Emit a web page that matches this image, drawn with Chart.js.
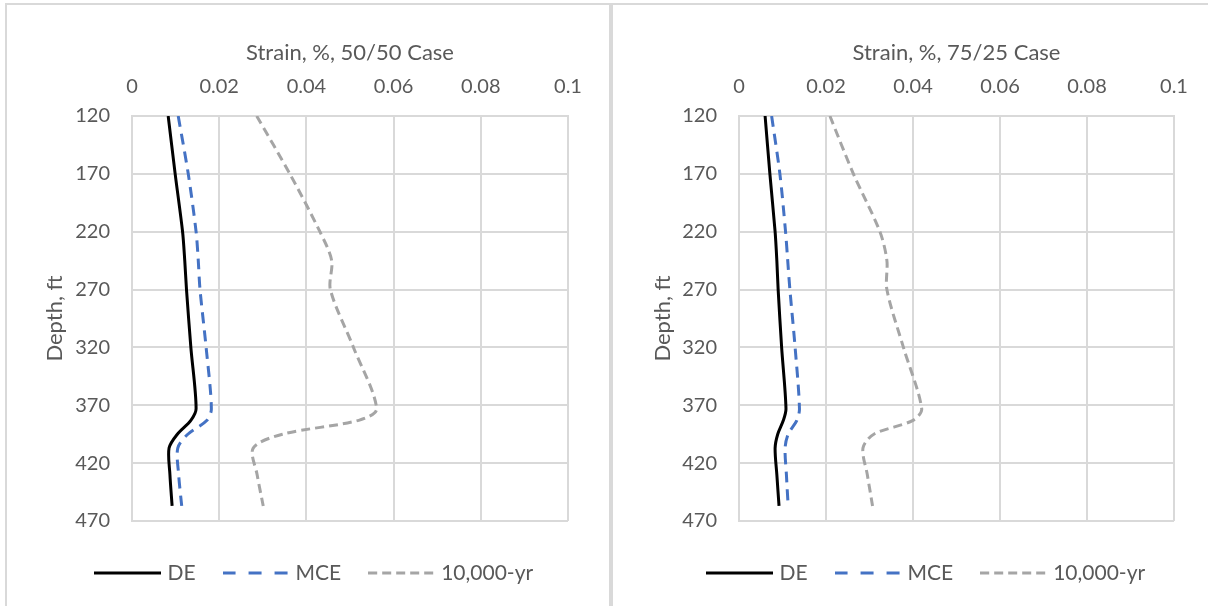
<!DOCTYPE html>
<html>
<head>
<meta charset="utf-8">
<script src="https://cdn.jsdelivr.net/npm/chart.js@4.4.0/dist/chart.umd.min.js"></script>
<style>
  body { margin: 0; background: #fff; width: 1208px; height: 606px; overflow: hidden; position: relative; }
  .frame { position: absolute; top: 3px; height: 603px; border-top: 2px solid #d9d9d9; box-sizing: border-box; }
  #f1 { left: 5px; width: 604px; border-left: 2px solid #d9d9d9; }
  #f2 { left: 613px; width: 595px; }
  #sep { position: absolute; left: 609px; top: 3px; width: 4px; height: 603px; background: #d9d9d9; }
  .box { position: absolute; top: 5px; height: 600px; }
  #b1 { left: 7px; width: 602px; }
  #b2 { left: 613px; width: 595px; }
</style>
</head>
<body>
<div class="frame" id="f1"></div>
<div id="sep"></div>
<div class="frame" id="f2"></div>
<div class="box" id="b1"><canvas id="chart1"></canvas></div>
<div class="box" id="b2"><canvas id="chart2"></canvas></div>
<script>
// depth (ft) where the strain was read
const depths = [120, 170, 220, 245, 270, 320, 373, 383, 395, 407, 430, 457];

// 50/50 case
const de5050  = [0.0083, 0.0099, 0.0116, 0.0121, 0.0125, 0.0135, 0.0147, 0.0135, 0.0104, 0.0085, 0.0087, 0.0092];
const mce5050 = [0.0106, 0.0129, 0.0147, 0.0152, 0.0156, 0.0170, 0.0182, 0.0172, 0.0128, 0.0105, 0.0107, 0.0114];
const yr5050  = [0.0286, 0.0362, 0.0431, 0.0458, 0.0455, 0.0508, 0.0561, 0.0520, 0.0345, 0.0278, 0.0287, 0.0301];

// 75/25 case
const de7525  = [0.0060, 0.0071, 0.0083, 0.0087, 0.0090, 0.0098, 0.0108, 0.0102, 0.0089, 0.0083, 0.0087, 0.0092];
const mce7525 = [0.0075, 0.0094, 0.0107, 0.0112, 0.0117, 0.0129, 0.0139, 0.0133, 0.0113, 0.0106, 0.0109, 0.0113];
const yr7525  = [0.0209, 0.0263, 0.0324, 0.0340, 0.0340, 0.0378, 0.0420, 0.0400, 0.0310, 0.0285, 0.0295, 0.0307];

const seriesNames = ['DE', 'MCE', '10,000-yr'];

const textColor = '#595959';
const gridColor = '#d9d9d9';
const tickFont = { family: 'Lato', size: 20 };
const titleFont = { family: 'Lato', size: 22 };
const legendFont = { family: 'Lato', size: 21 };

function sample(color, dash) {
    let c = document.createElement('canvas');
    c.width = 67;
    c.height = 4;
    let g = c.getContext('2d');
    g.strokeStyle = color;
    g.lineWidth = 3;
    g.setLineDash(dash);
    g.beginPath();
    g.moveTo(0, 2);
    g.lineTo(67, 2);
    g.stroke();
    return c;
}

const styles = [
    { color: '#000000', dash: [], legend: sample('#000000', []) },
    { color: '#4472c4', dash: [11, 7], legend: sample('#4472c4', [13, 13]) },
    { color: '#a5a5a5', dash: [9, 5], legend: sample('#a5a5a5', [9, 5]) },
];

function pairs(values) {
    return values.map((v, i) => ({ x: v, y: depths[i] }));
}

function makeChart(id, title, seriesValues, padLeft, yTitlePad, yWidth, rightWidth) {
    let datasets = seriesValues.map((vals, i) => ({
        label: seriesNames[i],
        data: pairs(vals),
        showLine: true,
        borderColor: styles[i].color,
        borderWidth: 3,
        borderDash: styles[i].dash,
        pointRadius: 0,
        pointStyle: styles[i].legend,
        tension: 0.3,
        fill: false,
    }));

    return new Chart(document.getElementById(id), {
        type: 'scatter',
        data: { datasets: datasets },
        options: {
            responsive: true,
            maintainAspectRatio: false,
            animation: false,
            layout: { padding: { left: padLeft, right: 0, top: 0, bottom: 11.5 } },
            plugins: {
                tooltip: { enabled: false },
                legend: {
                    position: 'bottom',
                    labels: {
                        usePointStyle: true,
                        pointStyleWidth: 58,
                        padding: 31.5,
                        color: textColor,
                        font: legendFont,
                    }
                }
            },
            scales: {
                x: {
                    type: 'linear',
                    position: 'top',
                    min: 0,
                    max: 0.1,
                    ticks: {
                        stepSize: 0.02,
                        color: textColor,
                        font: tickFont,
                        padding: 17.3,
                        callback: (v) => String(Number(v.toFixed(4))),
                    },
                    grid: { color: gridColor, lineWidth: 2, drawTicks: false },
                    border: { color: gridColor, width: 2 },
                    title: { display: true, text: title, color: textColor, font: titleFont, padding: { top: 34.8, bottom: 0 } },
                    afterFit: (s) => { s.height = 111; },
                },
                y: {
                    type: 'linear',
                    position: 'left',
                    reverse: true,
                    min: 120,
                    max: 470,
                    ticks: { stepSize: 50, color: textColor, font: tickFont, padding: 22 },
                    grid: { color: gridColor, lineWidth: 2, drawTicks: false },
                    border: { color: gridColor, width: 2 },
                    title: { display: true, text: 'Depth, ft', color: textColor, font: titleFont, padding: { top: yTitlePad, bottom: 0 } },
                    afterFit: (s) => { s.width = yWidth; },
                },
                xGap: {
                    type: 'linear',
                    position: 'bottom',
                    ticks: { display: false },
                    grid: { display: false },
                    border: { display: false },
                    afterFit: (s) => { s.height = 10; },
                },
                yGap: {
                    type: 'linear',
                    position: 'right',
                    ticks: { display: false },
                    grid: { display: false },
                    border: { display: false },
                    afterFit: (s) => { s.width = rightWidth; },
                },
            }
        }
    });
}

let chart1 = makeChart('chart1', 'Strain, %, 50/50 Case', [de5050, mce5050, yr5050], 16, 18.8, 109, 41);
let chart2 = makeChart('chart2', 'Strain, %, 75/25 Case', [de7525, mce7525, yr7525], 35, 1.8, 91, 34);
</script>
</body>
</html>
